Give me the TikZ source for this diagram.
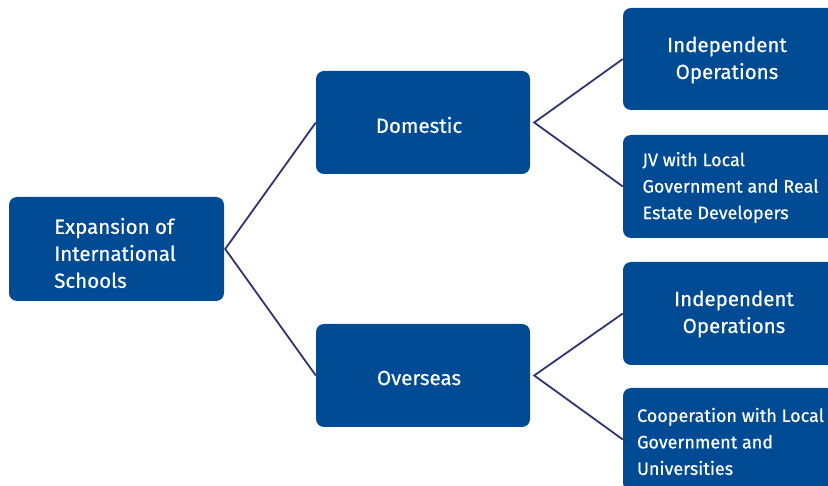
\documentclass[tikz,border=0pt]{standalone}
\usepackage{fontspec}
\setmainfont[FakeBold=0.5]{Fira Sans}
\definecolor{boxblue}{HTML}{004B93}
\definecolor{linenavy}{HTML}{2E3570}
\begin{document}
\begin{tikzpicture}[x=1pt,y=-1pt,
  box/.style={fill=boxblue, rounded corners=8pt, inner sep=0pt},
  big/.style={text=white, inner sep=0pt, font=\fontsize{20.5}{27}\selectfont},
  small/.style={text=white, inner sep=0pt, font=\fontsize{18}{26.5}\selectfont},
  conn/.style={draw=linenavy, line width=1.8pt}]
\useasboundingbox (0,0) rectangle (828,486);
\clip (0,0) rectangle (828,486);
\node[box, minimum width=215pt, minimum height=104pt] (root) at (116.5,249) {};
\node[box, minimum width=214pt, minimum height=103pt] (dom) at (423,122.5) {};
\node[box, minimum width=214pt, minimum height=103pt] (ovs) at (423,375.5) {};
\node[box, minimum width=220pt, minimum height=102pt] (ind1) at (733,59) {};
\node[box, minimum width=220pt, minimum height=103pt] (jv) at (733,186.5) {};
\node[box, minimum width=220pt, minimum height=103pt] (ind2) at (733,313.5) {};
\node[box, minimum width=220pt, minimum height=103pt] (coop) at (733,439.5) {};
\node[big, align=left] (rootT) at (115,253) {Expansion of\\International\\Schools};
\node[big] (domT) at (419,125) {Domestic};
\node[big] (ovsT) at (419,378) {Overseas};
\node[big, align=center] (ind1T) at (727,60) {Independent\\Operations};
\node[big, align=center] (ind2T) at (734,314) {Independent\\Operations};
\node[small, align=left] (jvT) at (730.5,187.5) {JV with Local\\Government and Real\\Estate Developers};
\node[small, align=left] (coopT) at (730.5,441.5) {Cooperation with Local\\Government and\\Universities};
\coordinate (rj) at ([xshift=1pt]root.east);
\coordinate (dj) at ([xshift=4pt]dom.east);
\coordinate (oj) at ([xshift=4pt]ovs.east);
\draw[conn] (dom.west) -- (rj) -- (ovs.west);
\draw[conn] (ind1.west) -- (dj) -- (jv.west);
\draw[conn] (ind2.west) -- (oj) -- (coop.west);
\end{tikzpicture}
\end{document}
